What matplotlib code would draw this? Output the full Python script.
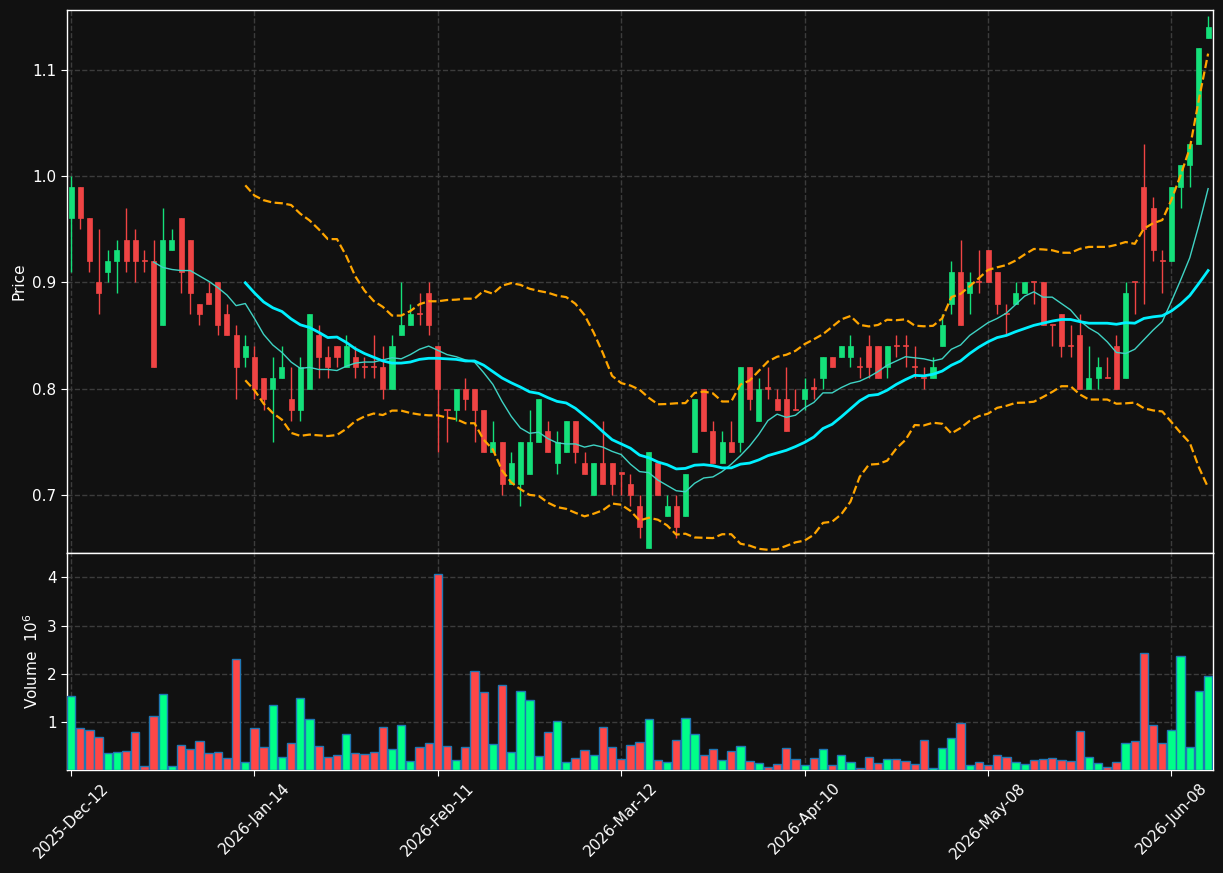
import numpy as np
import pandas as pd
import matplotlib
matplotlib.use('Agg')
import matplotlib.pyplot as plt

# OHLC values, one per trading session
opens = [0.96, 0.99, 0.96, 0.90, 0.91, 0.92, 0.94, 0.94, 0.92, 0.92,
         0.86, 0.93, 0.96, 0.94, 0.88, 0.89, 0.90, 0.87, 0.85, 0.83,
         0.83, 0.81, 0.80, 0.81, 0.79, 0.78, 0.80, 0.85, 0.83, 0.84,
         0.82, 0.83, 0.82, 0.82, 0.82, 0.80, 0.85, 0.86, 0.87, 0.89,
         0.84, 0.78, 0.78, 0.80, 0.80, 0.78, 0.74, 0.75, 0.71, 0.71,
         0.72, 0.75, 0.76, 0.73, 0.74, 0.77, 0.73, 0.70, 0.73, 0.73,
         0.72, 0.71, 0.69, 0.65, 0.73, 0.68, 0.69, 0.68, 0.74, 0.80,
         0.76, 0.73, 0.75, 0.75, 0.82, 0.77, 0.80, 0.79, 0.79, 0.78,
         0.79, 0.80, 0.81, 0.83, 0.83, 0.83, 0.82, 0.84, 0.84, 0.82,
         0.84, 0.84, 0.82, 0.81, 0.81, 0.84, 0.88, 0.91, 0.89, 0.90,
         0.93, 0.91, 0.87, 0.88, 0.89, 0.90, 0.90, 0.86, 0.87, 0.84,
         0.85, 0.80, 0.81, 0.81, 0.84, 0.81, 0.90, 0.99, 0.97, 0.92,
         0.92, 0.99, 1.01, 1.03, 1.13]
highs = [1.00, 0.99, 0.96, 0.95, 0.93, 0.94, 0.97, 0.95, 0.93, 0.94,
         0.97, 0.95, 0.96, 0.94, 0.88, 0.90, 0.90, 0.88, 0.86, 0.85,
         0.84, 0.81, 0.83, 0.84, 0.82, 0.83, 0.87, 0.86, 0.84, 0.84,
         0.85, 0.84, 0.83, 0.85, 0.84, 0.85, 0.90, 0.88, 0.89, 0.90,
         0.84, 0.78, 0.80, 0.81, 0.80, 0.78, 0.77, 0.75, 0.74, 0.75,
         0.78, 0.79, 0.77, 0.76, 0.77, 0.77, 0.74, 0.73, 0.77, 0.73,
         0.72, 0.72, 0.70, 0.74, 0.73, 0.70, 0.70, 0.72, 0.79, 0.80,
         0.77, 0.76, 0.77, 0.82, 0.82, 0.81, 0.82, 0.80, 0.82, 0.80,
         0.81, 0.81, 0.83, 0.83, 0.84, 0.85, 0.83, 0.85, 0.84, 0.84,
         0.85, 0.85, 0.84, 0.82, 0.83, 0.87, 0.92, 0.94, 0.91, 0.93,
         0.93, 0.91, 0.88, 0.90, 0.90, 0.90, 0.90, 0.86, 0.87, 0.86,
         0.87, 0.84, 0.83, 0.83, 0.85, 0.90, 0.90, 1.03, 0.98, 0.93,
         0.99, 1.01, 1.03, 1.12, 1.15]
lows = [0.91, 0.95, 0.91, 0.87, 0.90, 0.89, 0.91, 0.90, 0.91, 0.82,
        0.86, 0.93, 0.89, 0.87, 0.86, 0.88, 0.85, 0.85, 0.79, 0.82,
        0.79, 0.78, 0.75, 0.81, 0.77, 0.77, 0.80, 0.81, 0.81, 0.82,
        0.82, 0.81, 0.81, 0.81, 0.79, 0.80, 0.85, 0.86, 0.86, 0.85,
        0.74, 0.75, 0.77, 0.78, 0.75, 0.74, 0.74, 0.70, 0.71, 0.69,
        0.72, 0.75, 0.74, 0.72, 0.74, 0.73, 0.72, 0.70, 0.71, 0.70,
        0.70, 0.69, 0.66, 0.65, 0.70, 0.68, 0.66, 0.68, 0.74, 0.76,
        0.73, 0.73, 0.74, 0.74, 0.78, 0.77, 0.79, 0.78, 0.76, 0.78,
        0.78, 0.79, 0.80, 0.82, 0.83, 0.82, 0.81, 0.81, 0.81, 0.81,
        0.83, 0.82, 0.81, 0.80, 0.81, 0.84, 0.87, 0.86, 0.87, 0.89,
        0.90, 0.87, 0.85, 0.88, 0.89, 0.88, 0.86, 0.84, 0.83, 0.83,
        0.80, 0.80, 0.80, 0.81, 0.80, 0.81, 0.87, 0.88, 0.92, 0.89,
        0.92, 0.97, 0.99, 1.03, 1.13]
closes = [0.99, 0.96, 0.92, 0.89, 0.92, 0.93, 0.92, 0.92, 0.92, 0.82,
          0.94, 0.94, 0.91, 0.89, 0.87, 0.88, 0.86, 0.85, 0.82, 0.84,
          0.80, 0.79, 0.81, 0.82, 0.78, 0.82, 0.87, 0.83, 0.82, 0.83,
          0.84, 0.82, 0.82, 0.82, 0.80, 0.84, 0.86, 0.87, 0.87, 0.86,
          0.80, 0.78, 0.80, 0.79, 0.78, 0.74, 0.75, 0.71, 0.73, 0.75,
          0.75, 0.79, 0.74, 0.75, 0.77, 0.74, 0.72, 0.73, 0.71, 0.71,
          0.72, 0.70, 0.67, 0.74, 0.70, 0.69, 0.67, 0.72, 0.79, 0.76,
          0.73, 0.75, 0.74, 0.82, 0.79, 0.80, 0.80, 0.78, 0.76, 0.78,
          0.80, 0.80, 0.83, 0.82, 0.84, 0.84, 0.82, 0.82, 0.81, 0.84,
          0.84, 0.84, 0.82, 0.81, 0.82, 0.86, 0.91, 0.86, 0.90, 0.90,
          0.90, 0.88, 0.87, 0.89, 0.90, 0.90, 0.86, 0.86, 0.84, 0.84,
          0.80, 0.81, 0.82, 0.81, 0.80, 0.89, 0.90, 0.95, 0.93, 0.92,
          0.99, 1.01, 1.03, 1.12, 1.14]
# volume in millions
volumes = [1.53, 0.87, 0.83, 0.68, 0.35, 0.37, 0.39, 0.79, 0.09, 1.12,
           1.575, 0.08, 0.52, 0.44, 0.60, 0.35, 0.37, 0.25, 2.30, 0.17,
           0.87, 0.48, 1.35, 0.27, 0.56, 1.49, 1.06, 0.50, 0.27, 0.31,
           0.75, 0.35, 0.33, 0.37, 0.89, 0.44, 0.93, 0.19, 0.48, 0.56,
           4.08, 0.50, 0.20, 0.48, 2.05, 1.62, 0.54, 1.76, 0.37, 1.64,
           1.45, 0.29, 0.79, 1.02, 0.17, 0.25, 0.41, 0.31, 0.89, 0.48,
           0.23, 0.52, 0.58, 1.06, 0.21, 0.17, 0.62, 1.08, 0.75, 0.31,
           0.44, 0.21, 0.39, 0.50, 0.19, 0.145, 0.055, 0.12, 0.46, 0.23,
           0.10, 0.25, 0.435, 0.10, 0.31, 0.17, 0.04, 0.27, 0.145, 0.23,
           0.23, 0.19, 0.12, 0.62, 0.04, 0.46, 0.66, 0.97, 0.10, 0.17,
           0.10, 0.31, 0.27, 0.17, 0.12, 0.21, 0.23, 0.25, 0.21, 0.19,
           0.81, 0.27, 0.145, 0.06, 0.17, 0.56, 0.60, 2.42, 0.93, 0.56,
           0.83, 2.36, 0.48, 1.64, 1.95]
tick_labels = ['2025-Dec-12', '2026-Jan-14', '2026-Feb-11', '2026-Mar-12',
               '2026-Apr-10', '2026-May-08', '2026-Jun-08']
TICK_STEP = 20

BG = '#111111'
UP = '#14e07a'
DOWN = '#f04444'
VOL_UP = '#00ff88'
VOL_DOWN = '#ff4747'
GRID = '#3c3c3c'

df = pd.DataFrame({'open': opens, 'high': highs, 'low': lows,
                   'close': closes, 'volume': volumes})
idx = np.arange(len(df))
up = df['close'] > df['open']

ma20 = df['close'].rolling(20).mean()
ma10 = df['close'].rolling(10).mean()
std20 = df['close'].rolling(20).std()
upper = ma20 + 2 * std20
lower = ma20 - 2 * std20

fig = plt.figure(figsize=(12.23, 8.73), dpi=100, facecolor=BG)
ax = fig.add_axes([0.0548, 0.3666, 0.9370, 0.6220])
axv = fig.add_axes([0.0548, 0.1180, 0.9370, 0.2486], sharex=ax)

for a in (ax, axv):
    a.set_facecolor(BG)
    for s in a.spines.values():
        s.set_color('white')
        s.set_linewidth(1.0)
    a.tick_params(colors='white', labelsize=11, length=4)
    a.grid(True, color=GRID, linestyle='--', linewidth=1.0)
    a.set_axisbelow(True)

# candles: wicks then bodies
wick_colors = np.where(up, UP, DOWN)
ax.vlines(idx, df['low'], df['high'], colors=wick_colors, linewidth=1.0, zorder=2)
body_h = (df['close'] - df['open']).abs().clip(lower=0.0012)
body_b = np.minimum(df['open'], df['close'])
ax.bar(idx, body_h, bottom=body_b, width=0.55, color=wick_colors,
       edgecolor=wick_colors, linewidth=0.5, zorder=3)

ax.plot(idx, upper, color='#ffa500', linestyle='--', linewidth=1.6, zorder=4)
ax.plot(idx, lower, color='#ffa500', linestyle='--', linewidth=1.6, zorder=4)
ax.plot(idx, ma10, color='#3fd3c4', linewidth=1.0, zorder=4)
ax.plot(idx, ma20, color='#00f0ff', linewidth=2.0, zorder=5)

ax.set_ylim(0.6455, 1.156)
ax.set_yticks([0.7, 0.8, 0.9, 1.0, 1.1])
ax.set_ylabel('Price', color='white', fontsize=11)
ax.tick_params(axis='x', labelbottom=False, length=0)

vol_colors = np.where(up, VOL_UP, VOL_DOWN)
axv.bar(idx, df['volume'], width=0.9, color=vol_colors,
        edgecolor='#1f77b4', linewidth=1.0, zorder=3)
axv.set_ylim(0, df['volume'].max() * 1.105)
axv.set_yticks([1, 2, 3, 4])
axv.set_ylabel('Volume  $10^{6}$', color='white', fontsize=11)

tick_pos = idx[::TICK_STEP][:len(tick_labels)]
axv.set_xticks(tick_pos)
axv.set_xticklabels(tick_labels, rotation=45, fontsize=11)
axv.set_xlim(-0.44, 124.53)

fig.savefig('out.png', dpi=100, facecolor=BG)
